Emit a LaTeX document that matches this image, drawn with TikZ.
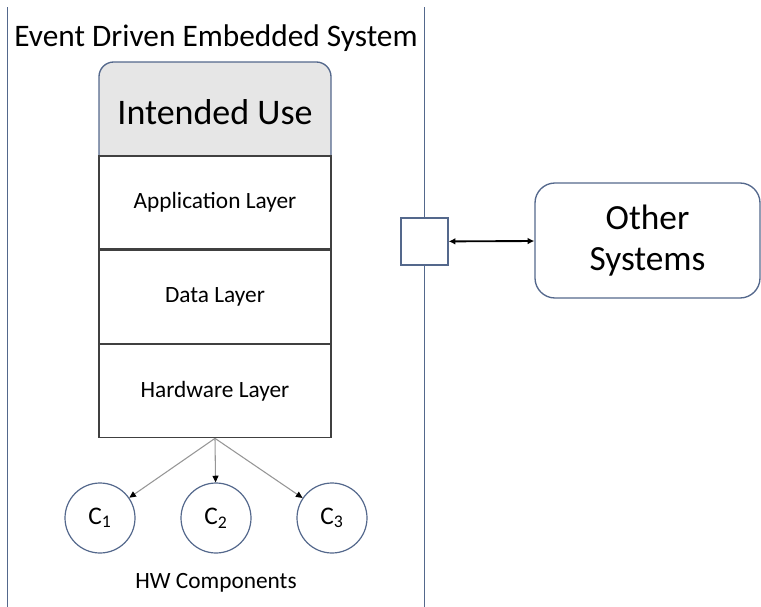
\documentclass[tikz,border=0pt]{standalone}
\usepackage{fontspec}
\setmainfont{Carlito}
\usetikzlibrary{arrows.meta,positioning}
\definecolor{frameblue}{RGB}{84,104,140}
\definecolor{usegrey}{RGB}{230,230,230}
\definecolor{wiregrey}{RGB}{150,150,150}
\tikzset{
  layerbox/.style={draw=black!75, line width=1pt, fill=white, minimum width=174pt, minimum height=69.75pt, inner sep=0pt, font=\fontsize{17.5}{20}\selectfont},
  compcircle/.style={circle, draw=frameblue, line width=0.9pt, fill=white, minimum size=52.5pt, inner sep=0pt, font=\fontsize{19}{22}\selectfont},
  wire/.style={draw=wiregrey, line width=0.8pt, -{Triangle[length=5pt,width=4.5pt,color=black]}}
}
\begin{document}
\begin{tikzpicture}[x=0.75pt,y=0.75pt,yscale=-1,xscale=1]
\useasboundingbox (0,0) rectangle (761,607);

%Straight Lines: system borders
\coordinate (lefttop) at (7.5,7);
\coordinate (leftbot) at (7.5,607);
\coordinate (midtop) at (424.5,7);
\coordinate (midbot) at (424.5,607);
\draw [frameblue, line width=1.1pt] (lefttop) -- (leftbot);
\draw [frameblue, line width=1.1pt] (midtop) -- (midbot);

% Text Node
\node (title) at (216,38) {\fontsize{23.5}{26}\selectfont Event Driven Embedded System};

%Shape: Rounded Rect (lower corners hidden below the layers)
\node [draw=frameblue, line width=1pt, fill=usegrey, rounded corners=11pt, minimum width=174pt, minimum height=90pt] (use) at (215,122) {};
\node (usetext) at (215,112) {\fontsize{27}{30}\selectfont Intended Use};

%Shape: Layers
\node [layerbox] (app) at (215,202.5) {Application Layer};
\node [layerbox, below=0pt of app] (data) {Data Layer};
\node [layerbox, below=0pt of data] (hw) {Hardware Layer};

%Shape: Components
\node [compcircle] (c1) at (100,518) {C\textsubscript{1}};
\node [compcircle] (c2) at (216,518) {C\textsubscript{2}};
\node [compcircle] (c3) at (332,518) {C\textsubscript{3}};
\draw [wire] (hw.south) -- (c1);
\draw [wire] (hw.south) -- (c2);
\draw [wire] (hw.south) -- (c3);

% Text Node
\node (hwtext) at (216,583) {\fontsize{17.5}{20}\selectfont HW Components};

%Shape: Interface + Other Systems
\node [draw=frameblue, line width=1pt, fill=white, minimum size=35.25pt, inner sep=0pt] (port) at (424.5,241.5) {};
\node [draw=frameblue, line width=1pt, rounded corners=15pt, minimum width=168.75pt, minimum height=86.25pt, align=center, font=\fontsize{26.5}{31}\selectfont] (other) at (647.5,240.5) {Other\\Systems};
\draw [black, line width=1.4pt, {Latex[length=5pt,width=5pt]}-{Latex[length=5pt,width=5pt]}] (port) -- (other);

\end{tikzpicture}
\end{document}
